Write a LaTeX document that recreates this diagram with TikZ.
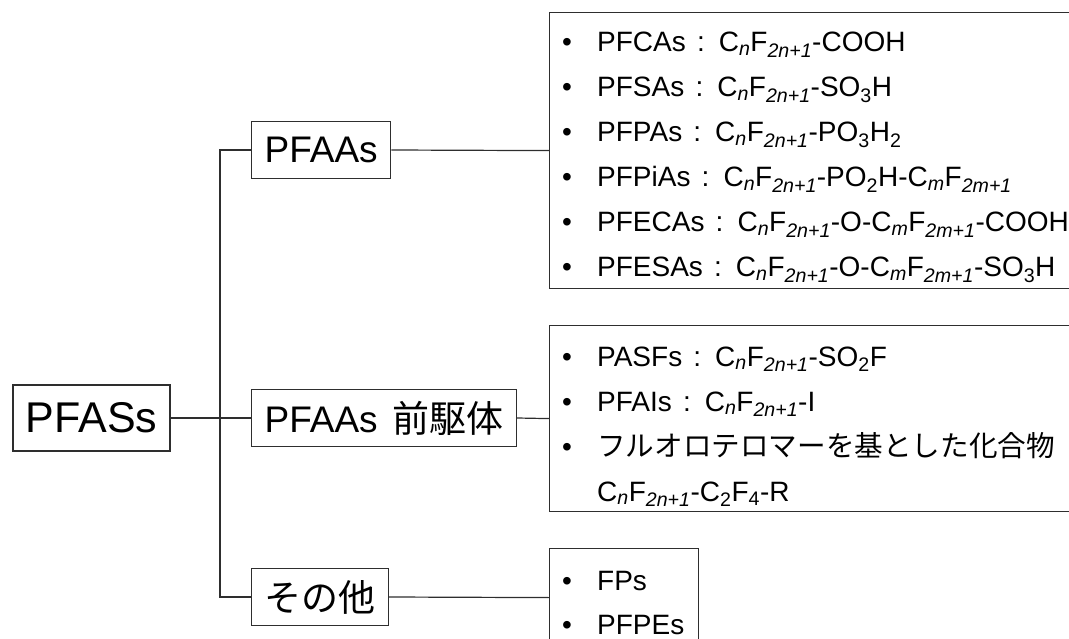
\documentclass[tikz,border=0pt]{standalone}
\usepackage{fontspec}
\setmainfont{Liberation Sans}
\newfontfamily\jpfont{Noto Sans CJK JP}
\usetikzlibrary{positioning}

\newcommand{\cnf}{C\textsubscript{\textit{n}}F\textsubscript{\textit{2n+1}}}
\newcommand{\cmf}{C\textsubscript{\textit{m}}F\textsubscript{\textit{2m+1}}}
\newcommand{\jcol}{\hspace{0.4em}:\hspace{0.5em}}
\newcommand{\itm}[1]{\makebox[35pt][l]{•}#1}

\tikzset{
  linecol/.style={draw=black!82, line width=1.2pt},
  catbox/.style={linecol, inner xsep=13pt, inner ysep=0pt, minimum height=57pt,
    font=\fontsize{37}{40}\selectfont, anchor=west},
  rootbox/.style={catbox, line width=1.6pt, minimum height=66pt,
    font=\fontsize{43}{48}\selectfont},
  listbox/.style={linecol, anchor=north west, inner sep=0pt},
  item/.style={anchor=base west, inner sep=0pt, font=\fontsize{28}{32}\selectfont}
}

\begin{document}
\begin{tikzpicture}[x=1pt,y=-1pt]

\useasboundingbox (0,0) rectangle (1069,639);
\clip (0,0) rectangle (1069,639);

\node[rootbox] (pfass) at (12,418) {PFASs};
\node[catbox] (pfaas) at (251,150) {PFAAs};
\node[catbox] (prec) at (251,418) {PFAAs\hspace{0.4em}{\jpfont 前駆体}};
\node[catbox] (other) at (251,597) {{\jpfont その他}};

\node[listbox, minimum width=600pt, minimum height=276pt] (pfaalist) at (549,12) {};
\node[listbox, minimum width=600pt, minimum height=186pt] (preclist) at (549,325) {};
\node[listbox, minimum width=149pt, minimum height=98pt] (otherlist) at (549,548) {};

\coordinate (split) at (220,418);
\draw[linecol] (pfass.east) -- (prec.west);
\draw[linecol] (pfaas.west) -| (split) |- (other.west);
\draw[linecol] (pfaas.east) -- (pfaalist.west);
\draw[linecol] (prec.east) -- (preclist.west);
\draw[linecol] (other.east) -- (otherlist.west);

% PFAAs
\node[item] (pfca) at (562,52) {\itm{PFCAs\jcol\cnf-COOH}};
\node[item] (pfsa) at (562,97) {\itm{PFSAs\jcol\cnf-SO\textsubscript{3}H}};
\node[item] (pfpa) at (562,142) {\itm{PFPAs\jcol\cnf-PO\textsubscript{3}H\textsubscript{2}}};
\node[item] (pfpia) at (562,187) {\itm{PFPiAs\jcol\cnf-PO\textsubscript{2}H-\cmf}};
\node[item] (pfeca) at (562,232) {\itm{PFECAs\jcol\cnf-O-\cmf-COOH}};
\node[item] (pfesa) at (562,277) {\itm{PFESAs\jcol\cnf-O-\cmf-SO\textsubscript{3}H}};

% precursors
\node[item] (pasf) at (562,366) {\itm{PASFs\jcol\cnf-SO\textsubscript{2}F}};
\node[item] (pfai) at (562,411) {\itm{PFAIs\jcol\cnf-I}};
\node[item] (ftel) at (562,456) {\itm{{\jpfont\fontsize{28.6}{32}\selectfont フルオロテロマーを基とした化合物}}};
\node[item] (ftfm) at (597,501) {\cnf-C\textsubscript{2}F\textsubscript{4}-R};

% others
\node[item] (fp) at (562,590) {\itm{FPs}};
\node[item] (pfpe) at (562,634) {\itm{PFPEs}};

\end{tikzpicture}
\end{document}
